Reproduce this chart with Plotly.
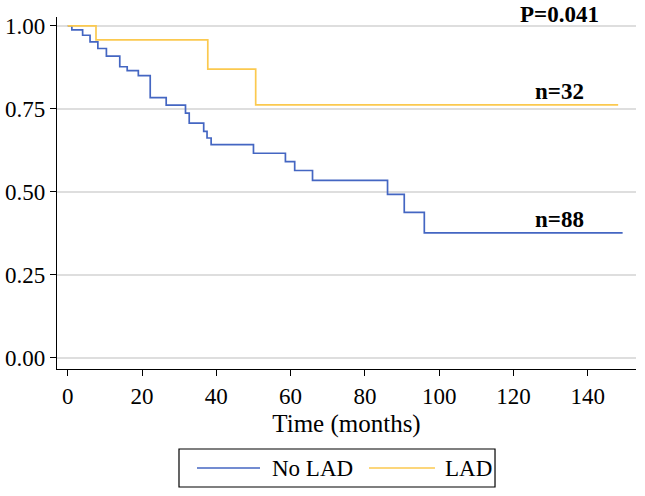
import plotly.graph_objects as go

# Kaplan-Meier step data
no_lad_time = [0, 1.1, 4.0, 6.0, 8.1, 10.4, 14.0, 16.0, 19.0, 22.2, 26.5, 31.7, 32.7,
               36.6, 37.5, 38.6, 50.0, 58.6, 61.1, 65.9, 86.1, 90.6, 96.0, 149.4]
no_lad_surv = [1.0, 0.988, 0.972, 0.952, 0.932, 0.909, 0.877, 0.865, 0.850, 0.784, 0.761,
               0.737, 0.707, 0.682, 0.662, 0.642, 0.616, 0.591, 0.564, 0.534, 0.492,
               0.4375, 0.376, 0.376]
lad_time = [0, 7.6, 37.7, 50.6, 148.2]
lad_surv = [1.0, 0.958, 0.870, 0.762, 0.762]

x_ticks = [0, 20, 40, 60, 80, 100, 120, 140]
y_ticks = [0, 0.25, 0.5, 0.75, 1.0]
series_names = ["No LAD", "LAD"]

FONT = "Liberation Serif"
BLUE = "#4466c2"
YELLOW = "#fbc94f"

fig = go.Figure()
fig.add_trace(go.Scatter(x=no_lad_time, y=no_lad_surv, mode="lines", name=series_names[0],
                         line=dict(color=BLUE, width=1.7, shape="hv"), showlegend=False))
fig.add_trace(go.Scatter(x=lad_time, y=lad_surv, mode="lines", name=series_names[1],
                         line=dict(color=YELLOW, width=1.7, shape="hv"), showlegend=False))

ann_font = dict(family=FONT, size=23, color="black")
fig.add_annotation(x=132.5, y=1.006, yref="paper", text="<b>P=0.041</b>", showarrow=False,
                   font=ann_font, yanchor="middle")
fig.add_annotation(x=132.5, y=0.801, text="<b>n=32</b>", showarrow=False,
                   font=ann_font, yanchor="middle")
fig.add_annotation(x=132.5, y=0.415, text="<b>n=88</b>", showarrow=False,
                   font=ann_font, yanchor="middle")

# Manual legend (box, line samples, labels) in paper coordinates
fig.add_shape(type="rect", xref="paper", yref="paper", x0=0.2107, x1=0.7565,
              y0=-0.3352, y1=-0.2273, line=dict(color="black", width=1.2),
              fillcolor="white")
fig.add_shape(type="line", xref="paper", yref="paper", x0=0.2418, x1=0.3506,
              y0=-0.2813, y1=-0.2813, line=dict(color=BLUE, width=1.7))
fig.add_shape(type="line", xref="paper", yref="paper", x0=0.5389, x1=0.6528,
              y0=-0.2813, y1=-0.2813, line=dict(color=YELLOW, width=1.7))
leg_font = dict(family=FONT, size=23, color="black")
fig.add_annotation(x=0.3679, y=-0.2813, xref="paper", yref="paper", text=series_names[0],
                   showarrow=False, xanchor="left", yanchor="middle", font=leg_font)
fig.add_annotation(x=0.6667, y=-0.2813, xref="paper", yref="paper", text=series_names[1],
                   showarrow=False, xanchor="left", yanchor="middle", font=leg_font)

fig.update_layout(
    width=645, height=496,
    margin=dict(l=57, r=9, t=17, b=127),
    paper_bgcolor="white", plot_bgcolor="white",
    font=dict(family=FONT, size=23, color="black"),
    showlegend=False,
    hovermode=False,
)
fig.update_xaxes(range=[-2.9, 153], tickvals=x_ticks, showgrid=False, zeroline=False,
                 showline=True, linecolor="black", linewidth=1.3, automargin=False,
                 ticks="outside", ticklen=6, tickcolor="black",
                 title=dict(text="Time (months)", font=dict(family=FONT, size=25), standoff=6),
                 tickfont=dict(family=FONT, size=23))
fig.update_yaxes(range=[-0.0347, 1.027], tickvals=y_ticks, tickformat=".2f",
                 showgrid=True, gridcolor="#dedede", gridwidth=1.5, zeroline=False,
                 showline=True, linecolor="black", linewidth=1.3, automargin=False,
                 ticks="outside", ticklen=6, tickcolor="black",
                 tickfont=dict(family=FONT, size=23))

# remove the default 8px page margin so the figure fills the window exactly
fig.write_html("out.html", config={"displayModeBar": False},
               post_script="document.body.style.margin='0';document.body.style.overflow='hidden';")
